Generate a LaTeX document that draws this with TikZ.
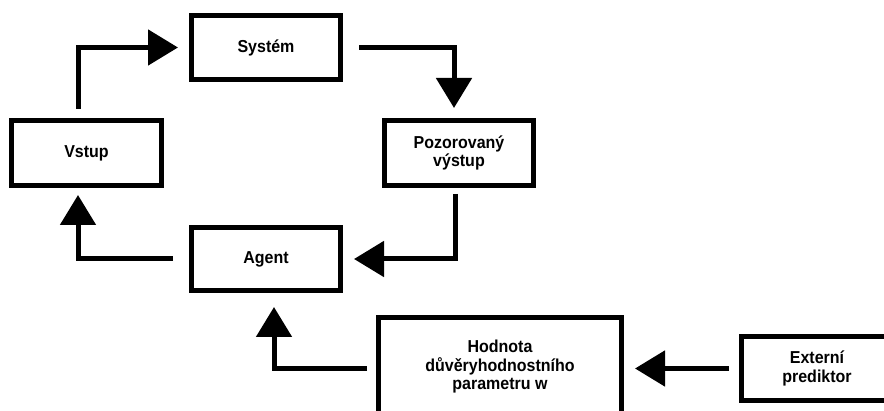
\documentclass[tikz,border=0pt]{standalone}
\usepackage{graphicx}
\usepackage{fontspec}
\setmainfont{Liberation Sans}
\usetikzlibrary{arrows.meta}
\newcommand\stl[1]{\scalebox{1}[1.08]{#1}}
\begin{document}
\begin{tikzpicture}[x=1pt,y=-1pt,
  box/.style={draw=black,line width=5pt,fill=white,inner sep=0pt,align=center,
    font=\fontsize{16}{18.5}\selectfont\bfseries},
  arr/.style={line width=5pt,-{Triangle[length=30pt,width=35pt]}}]
\useasboundingbox (0,0) rectangle (884,411);
\clip (0,0) rectangle (884,411);
\fill[white] (0,0) rectangle (884,411);
\node[box,minimum width=149pt,minimum height=64pt] (sys) at (266,47.5) {\stl{Systém}};
\node[box,minimum width=150pt,minimum height=65pt] (vst) at (86.5,153) {\stl{Vstup}};
\node[box,minimum width=149pt,minimum height=65pt] (poz) at (459,153) {\stl{Pozorovaný}\\\stl{výstup}};
\node[box,minimum width=149pt,minimum height=63pt] (agt) at (266,259) {\stl{Agent}};
\node[box,minimum width=243pt,minimum height=99pt] (hod) at (500,367) {\stl{Hodnota}\\\stl{důvěryhodnostního}\\\stl{parametru w}};
\node[box,minimum width=151pt,minimum height=64pt] (ext) at (817,368.5) {\stl{Externí}\\\stl{prediktor}};
\draw[arr] ([xshift=-8.5pt,yshift=9pt]vst.north) |- ([xshift=-11pt]sys.west);
\draw[arr] ([xshift=16pt]sys.east) -| ([xshift=-5pt,yshift=10pt]poz.north);
\draw[arr] ([xshift=-4pt,yshift=-6pt]poz.south) |- ([xshift=11pt]agt.east);
\draw[arr] ([xshift=-16pt]agt.west) -| ([xshift=-8.5pt,yshift=-7pt]vst.south);
\draw[arr] ([xshift=-9pt,yshift=-2pt]hod.west) -| ([xshift=8pt,yshift=-14pt]agt.south);
\draw[arr] ([xshift=-10pt]ext.west) -- ([xshift=11pt]ext.west -| hod.east);
\end{tikzpicture}
\end{document}
